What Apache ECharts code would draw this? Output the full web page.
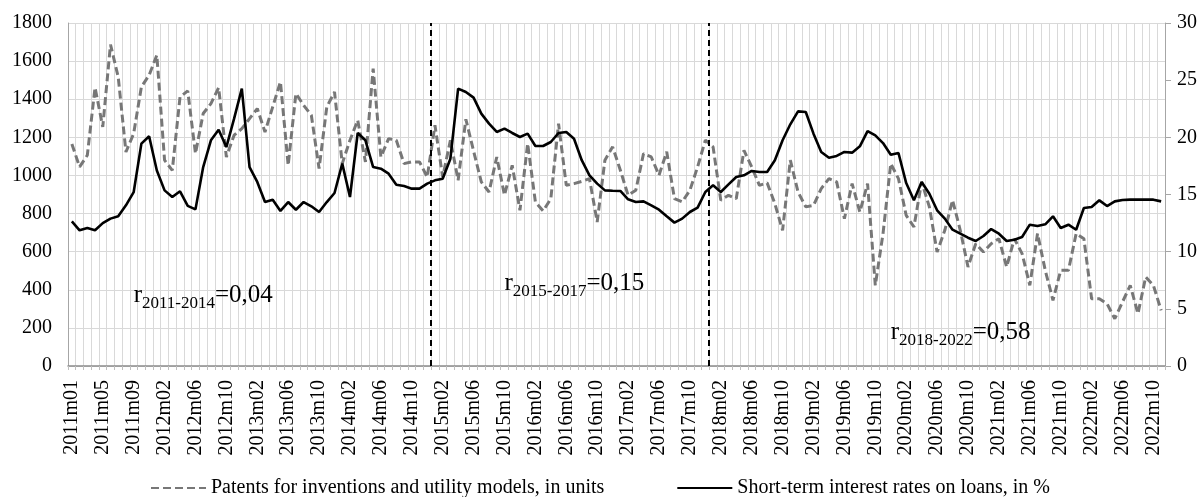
<!DOCTYPE html>
<html>
<head>
<meta charset="utf-8">
<script src="https://cdn.jsdelivr.net/npm/echarts@6/dist/echarts.min.js"></script>
<style>
  html, body { margin: 0; padding: 0; background: #fff; }
  #chart { width: 1204px; height: 497px; }
</style>
</head>
<body>
<div id="chart"></div>
<script>
// months in the series: 2011m01 .. 2022m11, 2012m01 absent
const years = [2011, 2012, 2013, 2014, 2015, 2016, 2017, 2018, 2019, 2020, 2021, 2022]
const missingMonths = ['2012m01', '2022m12']

// patents for inventions and utility models, units (left axis)
const patents = [
  1165, 1045, 1106, 1461, 1255, 1687, 1517, 1123, 1220, 1465, 1526, 1631,
  1080, 1027, 1412, 1444, 1115, 1325, 1377, 1461, 1097, 1211, 1246,
  1298, 1351, 1228, 1360, 1491, 1053, 1430, 1368, 1316, 1036, 1360, 1438,
  1062, 1185, 1290, 1071, 1561, 1097, 1193, 1185, 1062, 1071, 1071, 992,
  1263, 992, 1185, 975, 1295, 1128, 966, 913, 1097, 896, 1053, 817,
  1167, 861, 814, 878, 1272, 948, 957, 969, 983, 756, 1080, 1150,
  1027, 896, 922, 1115, 1097, 1001, 1124, 878, 861, 922, 1045, 1185,
  1150, 870, 896, 878, 1132, 1045, 948, 961, 852, 712, 1080, 913,
  835, 843, 931, 983, 966, 773, 957, 808, 957, 423, 695, 1062,
  983, 790, 730, 966, 835, 598, 712, 870, 712, 520, 642, 598,
  642, 668, 520, 668, 590, 423, 695, 502, 345, 502, 502, 695,
  668, 353, 353, 327, 248, 336, 423, 275, 467, 423, 292
]

// short-term interest rates on loans, % (right axis)
const rates = [
  12.65, 11.87, 12.07, 11.87, 12.5, 12.89, 13.09, 14.05, 15.2, 19.45, 20.09, 17.1,
  15.36, 14.78, 15.28, 14.0, 13.7, 17.4, 19.74, 20.67, 19.15, 21.63, 24.26,
  17.4, 16.1, 14.34, 14.55, 13.56, 14.34, 13.67, 14.34, 13.97, 13.47, 14.34, 15.13,
  17.7, 14.78, 20.38, 19.74, 17.4, 17.26, 16.82, 15.86, 15.74, 15.51, 15.51, 15.95,
  16.24, 16.38, 18.13, 24.26, 23.96, 23.47, 22.07, 21.2, 20.47, 20.76, 20.38, 20.03,
  20.32, 19.24, 19.24, 19.59, 20.38, 20.47, 19.88, 18.0, 16.68, 15.95, 15.36, 15.33,
  15.31, 14.58, 14.34, 14.4, 14.05, 13.67, 13.09, 12.54, 12.89, 13.47, 13.85, 15.22,
  15.8, 15.22, 15.89, 16.53, 16.68, 17.06, 16.97, 16.97, 17.99, 19.74, 21.14, 22.27,
  22.22, 20.32, 18.72, 18.22, 18.37, 18.72, 18.66, 19.21, 20.55, 20.17, 19.5, 18.48,
  18.63, 16.0, 14.49, 16.09, 15.07, 13.62, 12.89, 11.92, 11.57, 11.22, 10.93, 11.37,
  11.98, 11.57, 10.93, 11.05, 11.28, 12.36, 12.24, 12.39, 13.09, 12.07, 12.36, 11.92,
  13.82, 13.9, 14.49, 13.99, 14.4, 14.52, 14.55, 14.55, 14.55, 14.55, 14.4
]

// first month of each sub-period (dashed separators)
const periodStarts = ['2015m01', '2018m01']

// correlation notes: anchor month, anchor value (left axis), period, r
const notes = [
  { month: '2011m09', value: 360, period: '2011-2014', r: '=0,04' },
  { month: '2015m10', value: 425, period: '2015-2017', r: '=0,15' },
  { month: '2019m12', value: 170, period: '2018-2022', r: '=0,58' }
]

const months = []
years.forEach(y => {
  for (let m = 1; m <= 12; m++) {
    const name = y + 'm' + (m < 10 ? '0' + m : m)
    if (missingMonths.indexOf(name) === -1) months.push(name)
  }
})

const font = 'Liberation Serif, Times New Roman, serif'
const gridColor = '#d9d9d9'

const chart = echarts.init(document.getElementById('chart'))
chart.setOption({
  backgroundColor: '#fff',
  animation: false,
  textStyle: { fontFamily: font, color: '#000' },
  grid: { left: 68, right: 39, top: 23, bottom: 131 },
  legend: {
    left: 145,
    top: 473,
    itemWidth: 55,
    itemHeight: 14,
    itemGap: 72,
    itemStyle: { opacity: 0 },
    data: ['Patents for inventions and utility models, in units', 'Short-term interest rates on loans, in %'],
    textStyle: { fontFamily: font, fontSize: 20, color: '#000' }
  },
  xAxis: [{
    type: 'category',
    data: months,
    boundaryGap: true,
    axisLine: { lineStyle: { color: '#8c8c8c', width: 1.5 } },
    axisTick: { show: true, interval: 0, length: 4, lineStyle: { color: '#bfbfbf' } },
    axisLabel: {
      interval: 3,
      rotate: 90,
      margin: 14,
      fontFamily: font,
      fontSize: 20,
      color: '#000'
    },
    splitLine: { show: true, interval: 0, lineStyle: { color: gridColor, width: 1 } }
  }, {
    // helper scale for the period separators, placed on month boundaries
    type: 'value',
    min: 0,
    max: months.length,
    show: false
  }],
  yAxis: [{
    type: 'value',
    min: 0,
    max: 1800,
    interval: 200,
    axisLine: { show: true, lineStyle: { color: '#a6a6a6' } },
    axisTick: { show: false },
    axisLabel: { margin: 16, fontFamily: font, fontSize: 20, color: '#000', formatter: v => String(v) },
    splitLine: { lineStyle: { color: gridColor } }
  }, {
    type: 'value',
    position: 'right',
    min: 0,
    max: 30,
    interval: 5,
    axisLine: { show: true, lineStyle: { color: '#a6a6a6' } },
    axisTick: { show: true, length: 6, lineStyle: { color: '#a6a6a6' } },
    axisLabel: { margin: 12, fontFamily: font, fontSize: 20, color: '#000' },
    splitLine: { show: false }
  }],
  series: [{
    name: 'Patents for inventions and utility models, in units',
    type: 'line',
    yAxisIndex: 0,
    symbol: 'none',
    data: patents,
    lineStyle: { color: '#777777', width: 3, type: [8, 4] },
    itemStyle: { color: '#777777' },
    z: 3
  }, {
    name: 'Short-term interest rates on loans, in %',
    type: 'line',
    yAxisIndex: 1,
    symbol: 'none',
    data: rates,
    lineStyle: { color: '#000', width: 2.6 },
    itemStyle: { color: '#000' },
    z: 4
  }, {
    name: 'periods',
    type: 'line',
    xAxisIndex: 1,
    yAxisIndex: 0,
    data: [],
    silent: true,
    markLine: {
      silent: true,
      symbol: 'none',
      label: { show: false },
      lineStyle: { color: '#000', width: 2, type: [6, 4] },
      data: periodStarts.map(m => ({ xAxis: months.indexOf(m) }))
    }
  }]
})

// correlation labels, anchored through the axes
chart.setOption({
  graphic: notes.map(n => {
    const p = chart.convertToPixel({ xAxisIndex: 0, yAxisIndex: 0 }, [n.month, n.value])
    return {
      type: 'text',
      x: p[0],
      y: p[1],
      silent: true,
      style: {
        text: '{m|r}{s|' + n.period + '}{m|' + n.r + '}',
        verticalAlign: 'middle',
        align: 'left',
        rich: {
          m: { fontFamily: font, fontSize: 25, lineHeight: 30, padding: [0, 0, 4, 0], verticalAlign: 'bottom', fill: '#000' },
          s: { fontFamily: font, fontSize: 17, lineHeight: 18, verticalAlign: 'bottom', fill: '#000' }
        }
      }
    }
  })
})
</script>
</body>
</html>
